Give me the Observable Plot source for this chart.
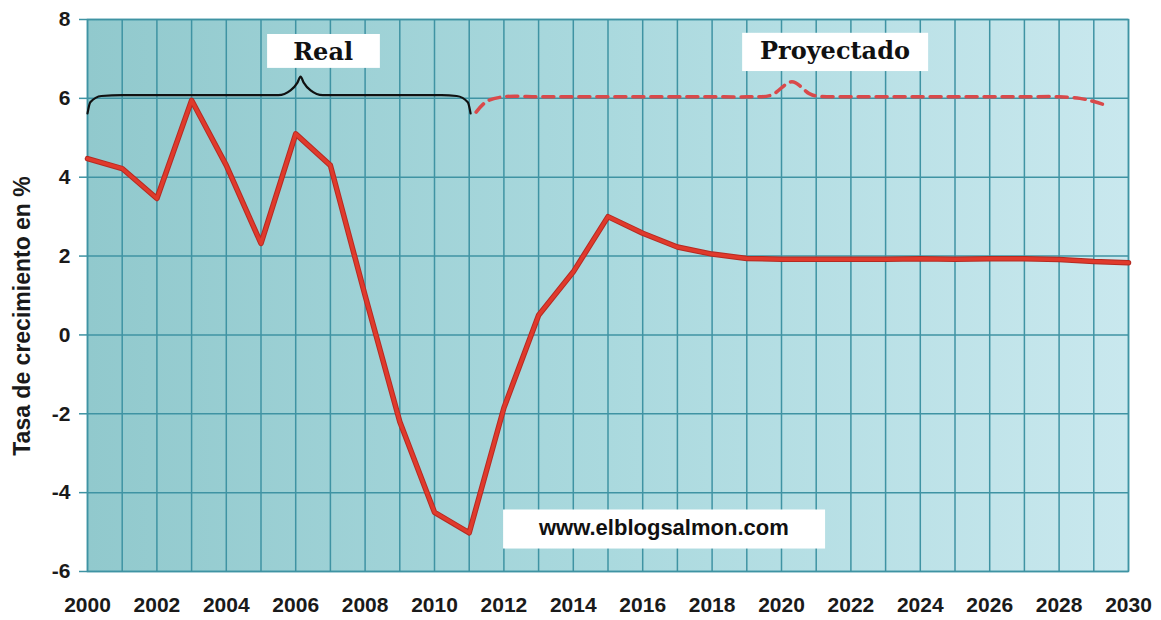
<!DOCTYPE html>
<html>
<head>
<meta charset="utf-8">
<script src="https://cdn.jsdelivr.net/npm/d3@7"></script>
<script src="https://cdn.jsdelivr.net/npm/@observablehq/plot@0.6"></script>
<style>
  html, body { margin: 0; padding: 0; background: #ffffff; }
  #chart { width: 1161px; height: 620px; }
</style>
</head>
<body>
<div id="chart"></div>
<script>
// ---- Data ----
const years = d3.range(2000, 2031);
const realValues = [4.47, 4.22, 3.46, 5.95, 4.3, 2.32, 5.1, 4.3, 1.0, -2.2, -4.5, -5.02, -1.85, 0.5, 1.6, 3.0, 2.58, 2.23, 2.05, 1.94, 1.92, 1.92, 1.92, 1.92, 1.93, 1.92, 1.93, 1.93, 1.91, 1.86, 1.83];

const projYears  = [2011.2, 2011.5, 2012, 2013, 2014, 2015, 2016, 2017, 2018, 2019, 2019.7, 2020.3, 2020.8, 2021, 2022, 2023, 2024, 2025, 2026, 2027, 2028, 2028.6, 2029.0, 2029.3];
const projValues = [5.65, 5.92, 6.04, 6.04, 6.04, 6.04, 6.04, 6.04, 6.04, 6.04, 6.08, 6.42, 6.12, 6.06, 6.04, 6.04, 6.04, 6.04, 6.04, 6.04, 6.04, 6.0, 5.92, 5.84];

// curly brace spanning the "Real" period
const braceYears  = [2000.0, 2000.08, 2000.4, 2001, 2005.5, 2005.85, 2006.05, 2006.14, 2006.23, 2006.43, 2006.78, 2010.2, 2010.64, 2010.96, 2011.04];
const braceValues = [5.62, 5.9, 6.06, 6.08, 6.08, 6.2, 6.4, 6.55, 6.4, 6.2, 6.08, 6.08, 6.06, 5.9, 5.62];

const yTicks = [-6, -4, -2, 0, 2, 4, 6, 8];
const xTicks = d3.range(2000, 2031, 2);
const xGrid = d3.range(2000, 2031, 1);
const yTitle = "Tasa de crecimiento en %";
const yTitleAt = [0.48];

// annotation labels
const labels = [
  {text: "Real", x: 2006.79, y: 7.18, x1: 2005.19, x2: 2008.44, y1: 6.76, y2: 7.62, serif: true},
  {text: "Proyectado", x: 2021.54, y: 7.2, x1: 2018.88, x2: 2024.24, y1: 6.68, y2: 7.65, serif: true},
  {text: "www.elblogsalmon.com", x: 2016.61, y: -4.9, x1: 2011.99, x2: 2021.27, y1: -5.43, y2: -4.44, serif: false}
];

const real = years.map((y, i) => ({year: y, value: realValues[i]}));
const proj = projYears.map((y, i) => ({year: y, value: projValues[i]}));
const brace = braceYears.map((y, i) => ({year: y, value: braceValues[i]}));

const grid = "#3f93a3";
const sans = "'Liberation Sans', Arial, sans-serif";

const chart = Plot.plot({
  width: 1161,
  height: 620,
  marginLeft: 87,
  marginRight: 33,
  marginTop: 19,
  marginBottom: 49,
  style: {fontFamily: sans, background: "transparent", overflow: "visible"},
  x: {domain: [2000, 2030]},
  y: {domain: [-6, 8]},
  marks: [
    Plot.frame({fill: "url(#bggrad)", stroke: null}),
    Plot.ruleX(xGrid, {stroke: grid, strokeWidth: 1.5}),
    Plot.ruleY(yTicks, {stroke: grid, strokeWidth: 1.5}),
    Plot.frame({stroke: grid, strokeWidth: 1.5}),
    Plot.axisX(xTicks, {tickSize: 0, tickPadding: 26, tickFormat: d => String(d), fontSize: 21, fontWeight: "bold", fill: "#1a1a1a", label: null}),
    Plot.axisY(yTicks, {tickSize: 8, tickPadding: 9, stroke: grid, strokeWidth: 1.5, tickFormat: d => String(d), fontSize: 21, fontWeight: "bold", fill: "#1a1a1a", label: null}),
    Plot.text([yTitle], {frameAnchor: "left", y: yTitleAt, dx: -65, rotate: -90, textAnchor: "middle", fontSize: 23, fontWeight: "bold", fill: "#1a1a1a"}),
    Plot.line(brace, {x: "year", y: "value", curve: "monotone-x", stroke: "#111", strokeWidth: 2.2}),
    Plot.line(proj, {x: "year", y: "value", curve: "catmull-rom", stroke: "#d9494a", strokeWidth: 3.5, strokeDasharray: "11,7"}),
    Plot.line(real, {x: "year", y: "value", stroke: "#b52a22", strokeWidth: 5.5, strokeLinejoin: "round"}),
    Plot.line(real, {x: "year", y: "value", stroke: "#e03a2c", strokeWidth: 3.5, strokeLinejoin: "round"}),
    Plot.rect(labels, {x1: "x1", x2: "x2", y1: "y1", y2: "y2", fill: "white"}),
    Plot.text(labels.filter(d => d.serif), {x: "x", y: "y", text: "text", fontSize: 24, fontWeight: "bold", fontFamily: "'DejaVu Serif', 'Liberation Serif', serif", fill: "#111"}),
    Plot.text(labels.filter(d => !d.serif), {x: "x", y: "y", text: "text", fontSize: 22, fontWeight: "bold", fill: "#111"})
  ]
});

// gradient for plot background
const svgNS = "http://www.w3.org/2000/svg";
const defs = document.createElementNS(svgNS, "defs");
defs.innerHTML = `<linearGradient id="bggrad" x1="0" x2="1" y1="0" y2="0">
  <stop offset="0%" stop-color="#91c9cd"/>
  <stop offset="50%" stop-color="#aad9de"/>
  <stop offset="100%" stop-color="#c9e8ee"/>
</linearGradient>`;
chart.insertBefore(defs, chart.firstChild);
document.getElementById("chart").appendChild(chart);
</script>
</body>
</html>
